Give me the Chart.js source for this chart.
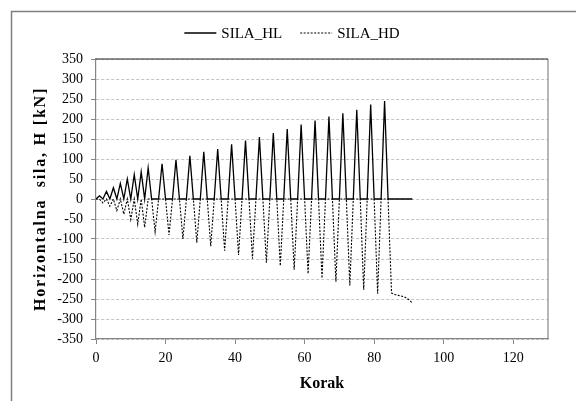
<!DOCTYPE html>
<html>
<head>
<meta charset="utf-8">
<script src="https://cdn.jsdelivr.net/npm/chart.js@4.4.1/dist/chart.umd.min.js"></script>
<style>
  html, body { margin: 0; padding: 0; background: #fff; overflow: hidden; }
  canvas { display: block; }
</style>
</head>
<body>
<canvas id="chart" width="576" height="401"></canvas>
<script>
// Korak (load step) numbers
const korak = [
  0, 1, 2, 3, 4, 5, 6, 7, 8, 9,
  10, 11, 12, 13, 14, 15, 16, 17, 18, 19,
  20, 21, 22, 23, 24, 25, 26, 27, 28, 29,
  30, 31, 32, 33, 34, 35, 36, 37, 38, 39,
  40, 41, 42, 43, 44, 45, 46, 47, 48, 49,
  50, 51, 52, 53, 54, 55, 56, 57, 58, 59,
  60, 61, 62, 63, 64, 65, 66, 67, 68, 69,
  70, 71, 72, 73, 74, 75, 76, 77, 78, 79,
  80, 81, 82, 83, 84, 85, 86, 87, 88, 89,
  90, 91
];

// Horizontal force, left (kN)
const silaHL = [
  0, 8, 0, 19, 0, 28, 0, 39, 0, 50,
  0, 61, 0, 68, 0, 78, 0, 0, 0, 88,
  0, 0, 0, 98, 0, 0, 0, 108, 0, 0,
  0, 118, 0, 0, 0, 125, 0, 0, 0, 137,
  0, 0, 0, 146, 0, 0, 0, 155, 0, 0,
  0, 165, 0, 0, 0, 175, 0, 0, 0, 186,
  0, 0, 0, 196, 0, 0, 0, 206, 0, 0,
  0, 214, 0, 0, 0, 223, 0, 0, 0, 236,
  0, 0, 0, 245, 0, 0, 0, 0, 0, 0,
  0, 0
];

// Horizontal force, right (kN)
const silaHD = [
  0, 0, -10, 0, -18, 0, -29, 0, -38, 0,
  -51, 0, -63, 0, -71, 0, 0, -82, 0, 0,
  0, -90, 0, 0, 0, -100, 0, 0, 0, -109,
  0, 0, 0, -118, 0, 0, 0, -129, 0, 0,
  0, -140, 0, 0, 0, -149, 0, 0, 0, -159,
  0, 0, 0, -167, 0, 0, 0, -177, 0, 0,
  0, -187, 0, 0, 0, -198, 0, 0, 0, -207,
  0, 0, 0, -216, 0, 0, 0, -227, 0, 0,
  0, -237, 0, 0, 0, -235, -239, -241, -243, -246,
  -252, -260
];

const seriesNames = ['SILA_HL', 'SILA_HD'];
const xTicks = [0, 20, 40, 60, 80, 100, 120];
const yTicks = [-350, -300, -250, -200, -150, -100, -50, 0, 50, 100, 150, 200, 250, 300, 350];
const xTitle = 'Korak';
const yTitle = 'Horizontalna  sila, H [kN]';

const FONT = "'Liberation Serif', 'Times New Roman', serif";
const AXIS_GREY = '#868686';

// white background, outer chart frame, plot frame, y title and the line legend
const framePlugin = {
  id: 'frame',
  beforeDraw(chart) {
    const ctx = chart.ctx;
    ctx.save();
    ctx.fillStyle = '#fff';
    ctx.fillRect(0, 0, chart.width, chart.height);
    ctx.strokeStyle = '#7f7f7f';
    ctx.lineWidth = 1.5;
    ctx.strokeRect(11.5, 11.5, chart.width + 20, chart.height + 20);
    ctx.restore();
  },
  beforeDatasetsDraw(chart) {
    const ctx = chart.ctx;
    const a = chart.chartArea;
    ctx.save();
    ctx.strokeStyle = AXIS_GREY;
    ctx.lineWidth = 1.2;
    ctx.beginPath();
    ctx.moveTo(a.right, a.top);
    ctx.lineTo(a.right, a.bottom);
    ctx.stroke();
    ctx.strokeStyle = '#222';
    ctx.beginPath();
    ctx.moveTo(a.left, a.top);
    ctx.lineTo(a.right, a.top);
    ctx.stroke();
    ctx.restore();
  },
  afterDraw(chart) {
    const ctx = chart.ctx;
    const a = chart.chartArea;

    // y axis title, a little letter-spaced like the original
    ctx.save();
    ctx.translate(40.5, (a.top + a.bottom) / 2);
    ctx.rotate(-Math.PI / 2);
    ctx.font = 'bold 16px ' + FONT;
    if ('letterSpacing' in ctx) ctx.letterSpacing = '1.8px';
    ctx.fillStyle = '#000';
    ctx.textAlign = 'center';
    ctx.textBaseline = 'middle';
    ctx.fillText(yTitle, 0, 0);
    ctx.restore();

    // legend with line samples
    const sets = chart.data.datasets;
    const lineLen = 32, gapText = 5, gapItem = 18;
    ctx.save();
    ctx.font = '15px ' + FONT;
    ctx.textBaseline = 'middle';
    ctx.fillStyle = '#000';
    let total = 0;
    sets.forEach((ds, i) => {
      total += lineLen + gapText + ctx.measureText(ds.label).width;
      if (i < sets.length - 1) total += gapItem;
    });
    let x = 292 - total / 2;
    const y = 33;
    sets.forEach(ds => {
      ctx.strokeStyle = ds.borderColor;
      ctx.lineWidth = ds.borderWidth;
      ctx.setLineDash(ds.borderDash || []);
      ctx.beginPath();
      ctx.moveTo(x, y);
      ctx.lineTo(x + lineLen, y);
      ctx.stroke();
      ctx.setLineDash([]);
      x += lineLen + gapText;
      ctx.fillText(ds.label, x, y + 1);
      x += ctx.measureText(ds.label).width + gapItem;
    });
    ctx.restore();
  }
};

const toPoints = ys => korak.map((k, i) => ({ x: k, y: ys[i] }));

new Chart(document.getElementById('chart'), {
  type: 'scatter',
  data: {
    datasets: [
      {
        label: seriesNames[0],
        data: toPoints(silaHL),
        showLine: true,
        borderColor: '#000',
        borderWidth: 1.3,
        pointRadius: 0,
        tension: 0
      },
      {
        label: seriesNames[1],
        data: toPoints(silaHD),
        showLine: true,
        borderColor: '#000',
        borderWidth: 1.1,
        borderDash: [2, 1.5],
        pointRadius: 0,
        tension: 0
      }
    ]
  },
  options: {
    responsive: false,
    animation: false,
    devicePixelRatio: 1,
    layout: { padding: { top: 59, right: 28, bottom: 0, left: 12 } },
    plugins: {
      legend: { display: false },
      tooltip: { enabled: false }
    },
    scales: {
      x: {
        type: 'linear',
        min: 0,
        max: 130,
        afterBuildTicks: axis => { axis.ticks = xTicks.map(v => ({ value: v })); },
        afterFit: axis => { axis.height = 62; },
        grid: {
          drawOnChartArea: false,
          drawTicks: true,
          tickLength: 5,
          tickColor: AXIS_GREY,
          color: AXIS_GREY
        },
        border: { color: AXIS_GREY, width: 1.2 },
        ticks: {
          color: '#000',
          padding: 6,
          maxRotation: 0,
          font: { family: FONT, size: 14 }
        },
        title: {
          display: true,
          text: xTitle,
          color: '#000',
          padding: { top: 0, bottom: 8 },
          font: { family: FONT, size: 16, weight: 'bold' }
        }
      },
      y: {
        min: -350,
        max: 350,
        afterBuildTicks: axis => { axis.ticks = yTicks.map(v => ({ value: v })); },
        afterFit: axis => { axis.width = 84; },
        grid: {
          color: '#c4c4c4',
          lineWidth: 1,
          drawTicks: true,
          tickLength: 5,
          tickColor: AXIS_GREY,
          tickBorderDash: []
        },
        border: { color: AXIS_GREY, width: 1.2, dash: [3, 2] },
        ticks: {
          color: '#000',
          padding: 8,
          font: { family: FONT, size: 14 }
        },
        title: { display: false }
      }
    }
  },
  plugins: [framePlugin]
});
</script>
</body>
</html>
